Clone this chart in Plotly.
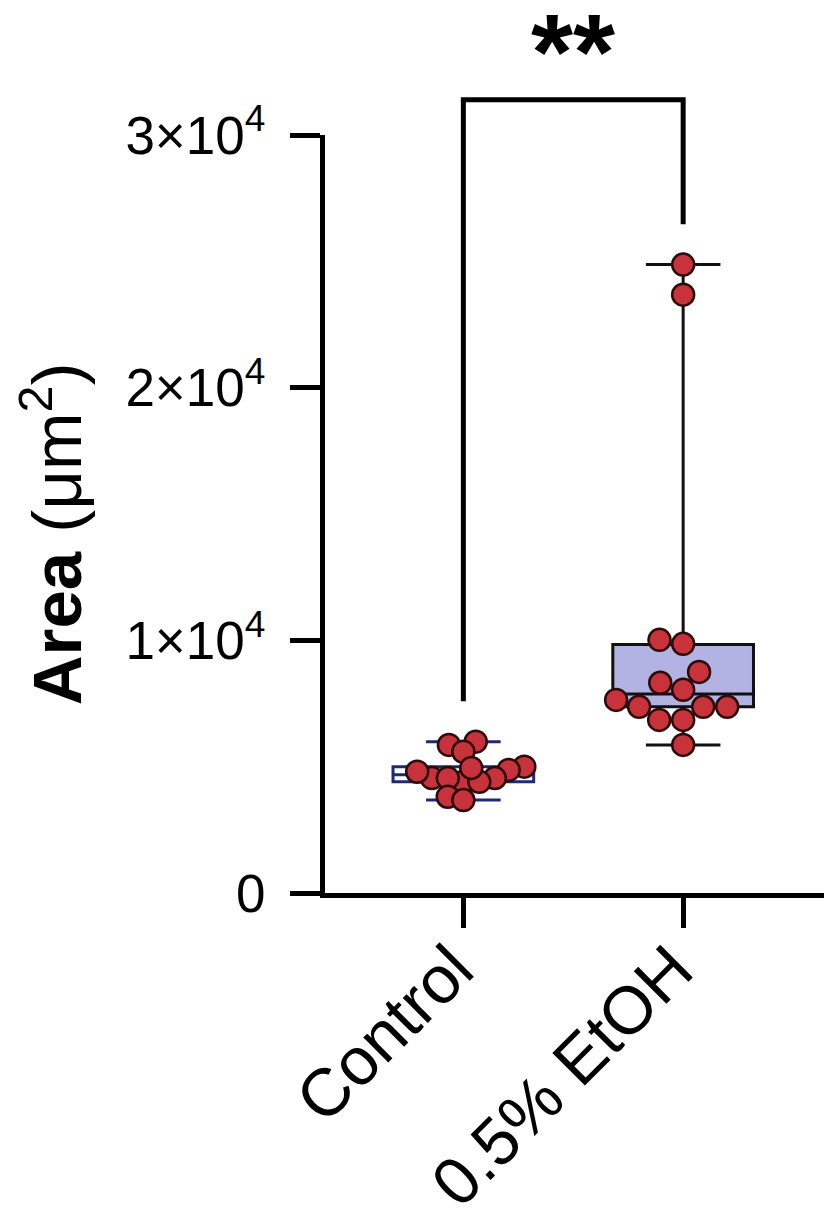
import numpy as np
import plotly.graph_objects as go

# ---------------- data ----------------
categories = ["Control", "0.5% EtOH"]
control_vals = [5990, 5860, 5590, 5000, 4870, 4550, 4550, 4400, 4400, 4550, 4800, 4950, 3810, 3680]
etoh_vals = [24870, 23680, 10020, 9860, 8750, 8320, 8040, 7640, 7370, 7370, 7370, 6850, 6850, 5860]

# box summary statistics
box_q1 = [4400, 7370]
box_median = [4680, 7880]
box_q3 = [5000, 9840]
box_lower = [3680, 5860]
box_upper = [5990, 24870]

y_tickvals = [0, 10000, 20000, 30000]
y_ticktext = ["0", "1×10<sup>4</sup>", "2×10<sup>4</sup>", "3×10<sup>4</sup>"]
sig_label = "**"
bracket_top = 31400
bracket_gap = 1600

# ---------------- layout constants ----------------
PAGE_OFF = 8                      # default body margin of the html page
W, H = 832 - PAGE_OFF, 1223 - PAGE_OFF
ML, MR, MT, MB = 316.5, 4, 127, 330
PW, PH = W - ML - MR, H - MT - MB
X_RANGE = [-0.6295, 1.659]
Y_RANGE = [0, 30000]
FONT = "Liberation Sans, Arial, Helvetica, sans-serif"

x_scale = PW / (X_RANGE[1] - X_RANGE[0])   # px per category unit
y_scale = PH / (Y_RANGE[1] - Y_RANGE[0])   # px per data unit


def swarm(vals, d_px):
    """Simple beeswarm: offsets (in category units) so markers do not overlap."""
    vals = np.asarray(vals, float)
    order = np.argsort(vals)
    placed = []
    offs = np.zeros(len(vals))
    for i in order:
        y = vals[i] * y_scale
        cands = [0.0]
        for px, py in placed:
            dy = y - py
            if abs(dy) < d_px:
                dx = np.sqrt(d_px ** 2 - dy ** 2)
                cands += [px + dx, px - dx]
        cands.sort(key=lambda c: (abs(c), c))
        chosen = cands[-1]
        for c in cands:
            if all((c - px) ** 2 + (y - py) ** 2 >= d_px ** 2 - 1e-6 for px, py in placed):
                chosen = c
                break
        placed.append((chosen, y))
        offs[i] = chosen / x_scale
    return offs


groups = [control_vals, etoh_vals]
spacing = [16, 24]
box_line = ["#1c2a78", "#111111"]
box_fill = ["rgba(255,255,255,0)", "#b3b3e3"]

fig = go.Figure()
for gi in range(2):
    fig.add_trace(go.Box(
        x=[gi], q1=[box_q1[gi]], median=[box_median[gi]], q3=[box_q3[gi]],
        lowerfence=[box_lower[gi]], upperfence=[box_upper[gi]],
        width=0.64, whiskerwidth=0.53, boxpoints=False,
        fillcolor=box_fill[gi], line=dict(color=box_line[gi], width=3),
        hoverinfo="skip", showlegend=False,
    ))

for gi in range(2):
    offs = swarm(groups[gi], spacing[gi])
    fig.add_trace(go.Scatter(
        x=gi + offs, y=groups[gi], mode="markers",
        marker=dict(size=22, color="#c8323a", line=dict(color="#2b0b0b", width=2.5)),
        showlegend=False, hoverinfo="skip", cliponaxis=False,
    ))


def xp(v):
    return (v - X_RANGE[0]) / (X_RANGE[1] - X_RANGE[0])


def yp(v):
    return (v - Y_RANGE[0]) / (Y_RANGE[1] - Y_RANGE[0])


def fig_y_to_paper(py):
    return (H - MB - py) / PH


def fig_x_to_paper(px):
    return (px - ML) / PW


yl = yp(max(control_vals) + bracket_gap)
yr = yp(max(etoh_vals) + bracket_gap)
yt = yp(bracket_top)
fig.add_shape(type="path", xref="paper", yref="paper",
              path=f"M {xp(0)},{yl} L {xp(0)},{yt} L {xp(1)},{yt} L {xp(1)},{yr}",
              line=dict(color="black", width=5))

fig.add_annotation(x=0.5, y=fig_y_to_paper(44), xref="x", yref="paper",
                   text=f"<b>{sig_label}</b>", showarrow=False, yanchor="middle",
                   font=dict(family=FONT, size=108, color="black"))

fig.add_annotation(x=fig_x_to_paper(43), y=fig_y_to_paper(525.5), xref="paper", yref="paper",
                   text="<b>Area</b> (μm<sup>2</sup>)", textangle=-90, showarrow=False,
                   xanchor="center", yanchor="middle",
                   font=dict(family=FONT, size=69, color="black"))

fig.update_layout(
    width=W, height=H, margin=dict(l=ML, r=MR, t=MT, b=MB, autoexpand=False),
    plot_bgcolor="white", paper_bgcolor="white",
    font=dict(family=FONT, color="black"),
    xaxis=dict(range=X_RANGE, tickvals=[0, 1], ticktext=categories, tickangle=-45,
               ticks="outside", ticklen=30, tickwidth=5, tickcolor="black",
               showline=True, linewidth=5, linecolor="black", showgrid=False, zeroline=False,
               automargin=False, ticklabelstandoff=-25, ticklabelshift=-10,
               tickfont=dict(family=FONT, size=67, color="black")),
    yaxis=dict(range=Y_RANGE, tickvals=y_tickvals, ticktext=y_ticktext,
               ticks="outside", ticklen=30, tickwidth=5, tickcolor="black",
               showline=True, linewidth=5, linecolor="black", showgrid=False, zeroline=False,
               automargin=False, ticklabelstandoff=14,
               tickfont=dict(family=FONT, size=53, color="black")),
)

fig.write_html("out.html", config={"displayModeBar": False})
